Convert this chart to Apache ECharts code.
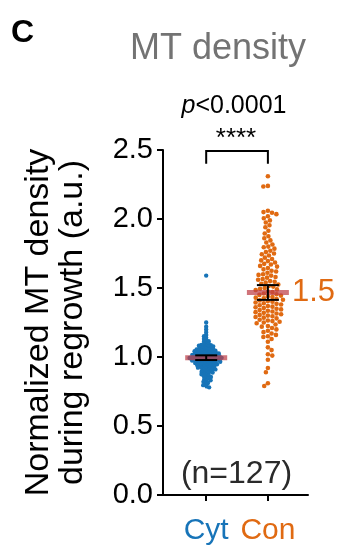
<!DOCTYPE html>
<html><head><meta charset="utf-8">
<script src="https://cdn.jsdelivr.net/npm/echarts@6/dist/echarts.min.js"></script>
<style>html,body{margin:0;padding:0;background:#fff}#c{width:346px;height:546px}</style>
</head><body><div id="c"></div>
<script>
const categories = ['Cyt', 'Con'];
const categoryColors = ['#1774b8', '#e06a12'];
const yTicks = [0, 0.5, 1, 1.5, 2, 2.5];
const cytValues = [1.59, 1.25, 1.22, 1.20, 1.18, 1.16, 1.15, 1.14, 1.13,
  1.12, 1.115, 1.11, 1.10, 1.095, 1.09,
  1.088, 1.085, 1.082, 1.08, 1.077, 1.074, 1.07, 1.067, 1.064, 1.061,
  1.058, 1.056, 1.054, 1.052, 1.05, 1.048, 1.046, 1.044, 1.042, 1.04, 1.038, 1.035, 1.033, 1.031,
  1.029, 1.028, 1.026, 1.025, 1.023, 1.021, 1.02, 1.018, 1.016, 1.015, 1.013, 1.011, 1.01, 1.008, 1.006, 1.005, 1.003, 1.002, 1.00,
  0.999, 0.997, 0.996, 0.994, 0.993, 0.991, 0.99, 0.988, 0.986, 0.985, 0.983, 0.981, 0.98, 0.978, 0.976, 0.975, 0.973, 0.972, 0.97,
  0.968, 0.966, 0.964, 0.962, 0.96, 0.958, 0.956, 0.954, 0.952, 0.95, 0.948, 0.946, 0.944, 0.942, 0.94,
  0.937, 0.934, 0.932, 0.929, 0.926, 0.923, 0.92, 0.918, 0.915, 0.913, 0.91,
  0.906, 0.902, 0.898, 0.894, 0.89, 0.887, 0.884, 0.88,
  0.875, 0.87, 0.865, 0.86, 0.855, 0.85,
  0.845, 0.838, 0.832, 0.826, 0.82,
  0.812, 0.804, 0.796, 0.787, 0.78];
const conValues = [2.31, 2.24, 2.235, 2.06, 2.05,
  2.045, 2.035, 2.02, 2.005,
  1.99, 1.975, 1.955,
  1.94, 1.915,
  1.895, 1.875, 1.86,
  1.845, 1.83, 1.815, 1.80,
  1.795, 1.785, 1.77, 1.76, 1.75,
  1.745, 1.735, 1.72, 1.71, 1.70,
  1.695, 1.685, 1.675, 1.67, 1.66, 1.655,
  1.645, 1.635, 1.625, 1.62, 1.61, 1.60,
  1.595, 1.59, 1.58, 1.575, 1.565, 1.56, 1.55,
  1.545, 1.54, 1.53, 1.525, 1.515, 1.51, 1.50,
  1.495, 1.49, 1.485, 1.475, 1.47, 1.46, 1.455, 1.45,
  1.445, 1.44, 1.435, 1.43, 1.425, 1.42, 1.415, 1.41, 1.405, 1.40,
  1.395, 1.39, 1.385, 1.38, 1.375, 1.37, 1.365, 1.36, 1.355, 1.35,
  1.345, 1.34, 1.335, 1.33, 1.325, 1.32, 1.315, 1.31, 1.305, 1.30,
  1.295, 1.29, 1.285, 1.28, 1.27, 1.265, 1.26, 1.255, 1.25,
  1.245, 1.235, 1.225, 1.22, 1.21, 1.20,
  1.19, 1.18, 1.17, 1.16, 1.15,
  1.145, 1.13, 1.11,
  1.07, 1.05, 1.02, 1.01, 0.98, 0.92, 0.89, 0.81, 0.79];
const groupMeans = [0.995, 1.468];
const groupErrLow = [0.978, 1.414];
const groupErrHigh = [1.012, 1.521];
const bracketLevels = [2.493, 2.40];
const meanLabel = '1.5';
const panelLetter = 'C';
const titleText = 'MT density';
const pText = '<0.0001';
const starText = '****';
const nText = '(n=127)';
const yName = 'Normalized MT density\nduring regrowth (a.u.)';

const FONT = '"Liberation Sans", Arial, Helvetica, sans-serif';

function swarm(ys, d) {
  const idx = ys.map((y, i) => i).sort((a, b) => ys[a] - ys[b]);
  const xs = new Array(ys.length);
  const placed = [];
  let flip = 1;
  for (const i of idx) {
    const y = ys[i];
    const near = placed.filter(p => Math.abs(p.y - y) < d);
    const cands = [0];
    near.forEach(p => {
      const dx = Math.sqrt(d * d - (p.y - y) * (p.y - y));
      cands.push(p.x + dx, p.x - dx);
    });
    cands.sort((a, b) => (Math.abs(a) - Math.abs(b)) || (flip * (a - b)));
    let x = 0;
    for (const c of cands) {
      if (near.every(p => (p.x - c) * (p.x - c) + (p.y - y) * (p.y - y) >= d * d - 1e-6)) { x = c; break; }
    }
    flip = -flip;
    xs[i] = x;
    placed.push({ x, y });
  }
  return xs;
}

function pointSeries(values, catIdx, d, r) {
  return {
    type: 'custom',
    z: 2,
    data: values.map(v => [catIdx + 1, v]),
    renderItem: function (params, api) {
      const ctx = params.context;
      if (!ctx.xs) {
        const ys = values.map(v => api.coord([catIdx + 1, v])[1]);
        ctx.xs = swarm(ys, d);
      }
      const p = api.coord([api.value(0), api.value(1)]);
      return {
        type: 'circle',
        shape: { cx: p[0] + ctx.xs[params.dataIndex], cy: p[1], r: r },
        style: { fill: categoryColors[catIdx] }
      };
    }
  };
}

const chart = echarts.init(document.getElementById('c'), null, { renderer: 'canvas' });
chart.setOption({
  animation: false,
  backgroundColor: '#fff',
  textStyle: { fontFamily: FONT },
  grid: { left: 163, right: 38, top: 150, bottom: 46 },
  xAxis: {
    type: 'value', min: 0.3, max: 2.65,
    splitLine: { show: false },
    axisLine: { show: true, onZero: false, lineStyle: { color: '#000', width: 2 } },
    axisTick: { show: true, customValues: [1, 2], length: 6, lineStyle: { color: '#000', width: 2 } },
    axisLabel: {
      customValues: [1, 2], margin: 21, fontSize: 30, fontFamily: FONT,
      formatter: v => (Math.round(v) === 1 ? '{a|' + categories[0] + '}' : '{b|' + categories[1] + '}'),
      rich: {
        a: { color: categoryColors[0], fontSize: 30, fontFamily: FONT },
        b: { color: categoryColors[1], fontSize: 30, fontFamily: FONT }
      }
    }
  },
  yAxis: {
    type: 'value', min: yTicks[0], max: yTicks[yTicks.length - 1], interval: 0.5,
    splitLine: { show: false },
    axisLine: { show: true, lineStyle: { color: '#000', width: 2 } },
    axisTick: { show: true, length: 6, lineStyle: { color: '#000', width: 2 } },
    axisLabel: { fontSize: 29, color: '#000', margin: 10, fontFamily: FONT, formatter: v => v.toFixed(1) },
    name: yName, nameLocation: 'middle', nameGap: 73,
    nameTextStyle: { fontSize: 34, lineHeight: 34, color: '#000', fontFamily: FONT }
  },
  series: [
    pointSeries(cytValues, 0, 2.6, 2.2),
    pointSeries(conValues, 1, 4.6, 2.3),
    {
      type: 'custom', z: 5,
      data: groupMeans.map((m, i) => [i + 1, m, groupErrLow[i], groupErrHigh[i]]),
      renderItem: function (params, api) {
        const c = api.coord([api.value(0), api.value(1)]);
        const lo = api.coord([api.value(0), api.value(2)]);
        const hi = api.coord([api.value(0), api.value(3)]);
        const children = [
          { type: 'rect', shape: { x: c[0] - 21, y: c[1] - 2.5, width: 42, height: 5 }, style: { fill: 'rgba(190,62,70,0.72)' } },
          { type: 'line', shape: { x1: c[0], y1: hi[1], x2: c[0], y2: lo[1] }, style: { stroke: '#000', lineWidth: 2 } },
          { type: 'line', shape: { x1: c[0] - 11, y1: hi[1], x2: c[0] + 11, y2: hi[1] }, style: { stroke: '#000', lineWidth: 2 } },
          { type: 'line', shape: { x1: c[0] - 11, y1: lo[1], x2: c[0] + 11, y2: lo[1] }, style: { stroke: '#000', lineWidth: 2 } }
        ];
        if (params.dataIndex === 1) {
          children.push({ type: 'text', x: c[0] + 24, y: c[1], style: { text: meanLabel, fill: categoryColors[1], fontSize: 31, fontFamily: FONT, align: 'left', verticalAlign: 'middle' } });
        }
        return { type: 'group', children };
      }
    },
    {
      type: 'custom', z: 5,
      data: [[1, 2, bracketLevels[0], bracketLevels[1]]],
      renderItem: function (params, api) {
        const a = api.coord([api.value(0), api.value(2)]);
        const b = api.coord([api.value(1), api.value(2)]);
        const a2 = api.coord([api.value(0), api.value(3)]);
        const b2 = api.coord([api.value(1), api.value(3)]);
        return {
          type: 'polyline',
          shape: { points: [a2, a, b, b2] },
          style: { stroke: '#000', lineWidth: 2, fill: null }
        };
      }
    }
  ],
  graphic: [
    { type: 'text', x: 11, y: 33, style: { text: panelLetter, fontSize: 32, fontWeight: 'bold', fill: '#000', fontFamily: FONT, verticalAlign: 'middle', align: 'left' } },
    { type: 'text', x: 218, y: 49, style: { text: titleText, fontSize: 36, fill: '#737373', fontFamily: FONT, verticalAlign: 'middle', align: 'center' } },
    { type: 'text', x: 234, y: 106, style: { text: '{i|p}{n|' + pText + '}', fontSize: 25, fill: '#000', fontFamily: FONT, verticalAlign: 'middle', align: 'center',
      rich: { i: { fontStyle: 'italic', fontSize: 25, fontFamily: FONT }, n: { fontSize: 25, fontFamily: FONT } } } },
    { type: 'text', x: 236, y: 139, style: { text: starText, fontSize: 26, fill: '#000', fontFamily: FONT, verticalAlign: 'middle', align: 'center' } },
    { type: 'text', x: 236.5, y: 474, style: { text: nText, fontSize: 32, fill: '#2a2a2a', fontFamily: FONT, verticalAlign: 'middle', align: 'center' } }
  ]
});
</script>
</body></html>
